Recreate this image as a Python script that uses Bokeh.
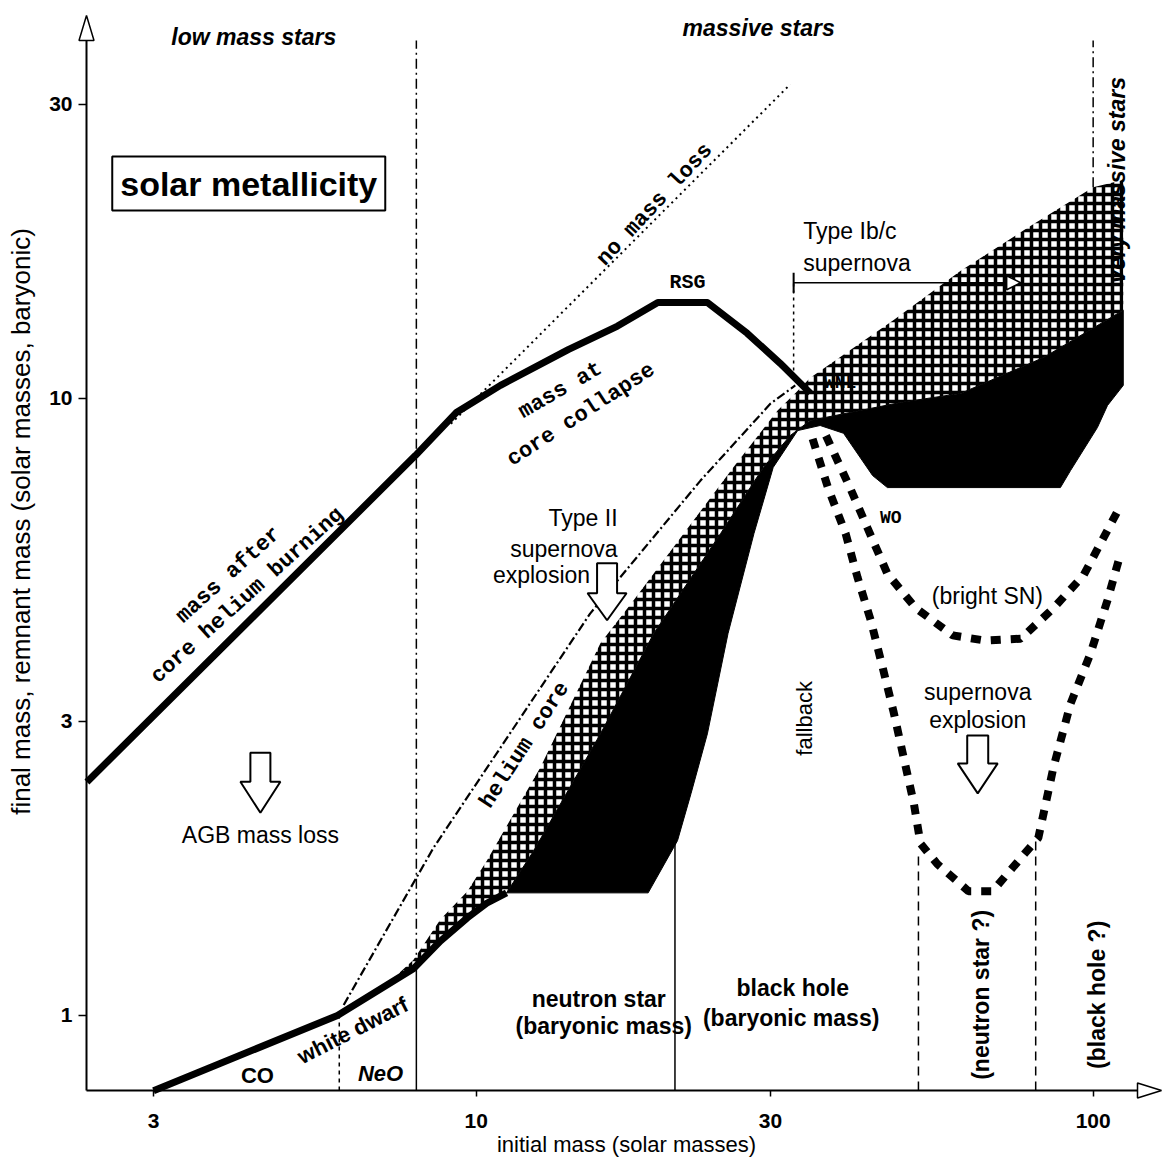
import math
from bokeh.plotting import figure
from bokeh.models import Range1d, FixedTicker, Label, Arrow, NormalHead, TeeHead
from bokeh.embed import file_html
from bokeh.resources import INLINE

# ---------------- data (all masses in solar masses) ----------------
X_TICKS = [3, 10, 30, 100]
X_TICK_LABELS = ["3", "10", "30", "100"]
Y_TICKS = [1, 3, 10, 30]
Y_TICK_LABELS = ["1", "3", "10", "30"]

# mass after core helium burning / mass at core collapse
STAR_INIT = [2.34, 7.97, 9.3, 10.95, 14.1, 16.95, 19.7, 23.7, 27.5, 31.1, 34.8]
STAR_FINAL = [2.39, 8.08, 9.5, 10.5, 12.0, 13.1, 14.3, 14.3, 12.75, 11.4, 10.2]

# white dwarf and low-mass remnant branch
REM_INIT = [3.0, 5.96, 7.91, 8.75, 9.68, 10.4, 11.2]
REM_MASS = [0.755, 1.0, 1.19, 1.32, 1.44, 1.52, 1.58]

# helium core mass
HE_INIT = [6.1, 8.53, 15.3, 23.1, 30.0, 32.9]
HE_CORE = [1.04, 1.87, 4.48, 7.36, 9.81, 10.5]

# no mass loss (final = initial)
NOLOSS = [9.1, 32.3]

# cross-hatched band (envelope that falls back)
HATCH_INIT = [7.0, 7.91, 8.75, 9.68, 10.4, 12.7, 15.9, 18.0, 21.7, 26.1, 30.8, 32.9, 34.8,
              47.5, 61.0, 78.3, 100.0, 111.9, 111.9,
              83.1, 61.0, 48.7, 40.4, 34.8, 32.3, 29.2, 24.9, 19.4, 15.9, 12.4, 11.2,
              10.4, 9.68, 8.75, 7.91]
HATCH_MASS = [1.10, 1.23, 1.43, 1.59, 1.78, 2.52, 4.01, 4.71, 6.04, 7.73, 9.56, 10.2, 10.8,
              13.4, 16.1, 18.9, 22.0, 22.6, 13.9,
              11.65, 10.19, 9.85, 9.49, 9.21, 8.71, 7.73, 6.04, 4.16, 2.86, 1.85, 1.58,
              1.52, 1.44, 1.32, 1.19]

# solid black band (remnant mass range)
BLACK_INIT = [11.2, 12.4, 15.9, 19.4, 24.9, 29.2, 32.3, 34.8, 40.4, 48.7, 61.0, 83.1, 111.9,
              111.9, 105.5, 101.6, 91.9, 88.5,
              46.4, 43.9, 39.4, 36.1, 33.2, 30.3, 28.2, 25.6, 23.7, 22.3, 21.2, 19.0]
BLACK_MASS = [1.58, 1.85, 2.86, 4.16, 6.04, 7.73, 8.71, 9.21, 9.49, 9.85, 10.19, 11.65, 13.9,
              10.5, 9.74, 8.97, 7.64, 7.17,
              7.17, 7.50, 8.78, 9.04, 8.87, 7.73, 6.04, 4.16, 2.86, 2.29, 1.92, 1.58]

# speculative branches for very massive stars
BRIGHT_INIT = [36.9, 40.4, 43.1, 46.4, 51.5, 59.2, 66.9, 76.3, 86.2, 96.5, 105.9, 110.8]
BRIGHT_MASS = [8.7, 7.15, 6.16, 5.20, 4.58, 4.13, 4.05, 4.08, 4.57, 5.17, 6.16, 6.71]
NS_INIT = [35.1, 37.2, 39.7, 41.5, 43.6, 45.6, 47.5, 49.3, 51.2, 52.5, 55.9, 62.8, 68.7,
           77.1, 81.5, 86.2, 91.9, 99.0, 105.5, 110.8]
NS_MASS = [8.6, 7.15, 6.04, 5.13, 4.37, 3.66, 3.10, 2.62, 2.21, 1.90, 1.76, 1.59, 1.59,
           1.82, 1.94, 2.52, 3.20, 3.86, 4.71, 5.61]

# initial-mass boundaries
M_CO_NEO = 6.0
M_MASSIVE = 8.0
M_NS_BH = 21.0
M_IBC = 32.7
M_PAIR_LO = 52.1
M_PAIR_HI = 80.7
M_VMS = 100.0

# ---------------- layout ----------------
W, H = 1162, 1162
PXD = 617.0                       # pixels per decade on both axes
AX_PX, AX_PY = 86, 1090           # canvas position of the axes corner
X_AX, Y_AX = 2.336, 0.7557        # data values at the axes corner


def at_px(px, py):
    """data coordinates of a canvas pixel position"""
    return X_AX * 10 ** ((px - AX_PX) / PXD), Y_AX * 10 ** ((AX_PY - py) / PXD)


def nudge(x, y, dx, dy):
    """shift a data point by dx, dy screen pixels (dy upward)"""
    return x * 10 ** (dx / PXD), y * 10 ** (dy / PXD)


# the plotting frame covers the whole canvas; the axes sit inside it
X_LO, Y_HI = at_px(0, 0)
X_HI, Y_LO = at_px(W, H)

p = figure(width=W, height=H, x_axis_type="log", y_axis_type="log",
           x_range=Range1d(X_LO, X_HI), y_range=Range1d(Y_LO, Y_HI),
           output_backend="svg", toolbar_location=None,
           min_border_left=0, min_border_right=0, min_border_top=0, min_border_bottom=0)
p.grid.visible = False
p.outline_line_color = None
p.background_fill_color = "white"
p.border_fill_color = "white"

SANS = "Liberation Sans"
MONO = "Liberation Mono"

x_tip, y_tip = at_px(1161, 15)        # arrow tips of the axes
x_base, y_base = at_px(1137, 40)      # where the arrow heads begin

for ax, ticks, labels in ((p.xaxis, X_TICKS, X_TICK_LABELS), (p.yaxis, Y_TICKS, Y_TICK_LABELS)):
    ax.ticker = FixedTicker(ticks=ticks, minor_ticks=[])
    ax.major_label_overrides = dict(zip(ticks, labels))
    ax.major_label_text_font = SANS
    ax.major_label_text_font_style = "bold"
    ax.major_label_text_font_size = "21px"
    ax.major_label_text_color = "black"
    ax.major_tick_in = 0
    ax.minor_tick_out = 0
    ax.minor_tick_in = 0
    ax.axis_line_width = 2
    ax.major_tick_line_width = 1.5

p.xaxis.fixed_location = Y_AX
p.xaxis.bounds = (X_AX, x_base)
p.xaxis.major_tick_out = 6
p.xaxis.major_label_standoff = 17

p.yaxis.fixed_location = X_AX
p.yaxis.bounds = (Y_AX, y_base)
p.yaxis.major_tick_out = 8
p.yaxis.major_label_standoff = 6

# shaded regions
p.patch(HATCH_INIT, HATCH_MASS, fill_color="white", line_color=None,
        hatch_pattern="+", hatch_color="black", hatch_scale=9, hatch_weight=3.5)
p.patch(BLACK_INIT, BLACK_MASS, fill_color="black", line_color="black", line_width=1)

# boundary lines
p.line([M_MASSIVE, M_MASSIVE], [1.19, y_base], line_color="black", line_width=1.5, line_dash="10 4 2 4")
p.line([M_MASSIVE, M_MASSIVE], [Y_AX, 1.19], line_color="black", line_width=1.5)
p.line([M_CO_NEO, M_CO_NEO], [Y_AX, 1.0], line_color="black", line_width=1.5, line_dash="4 4")
p.line([M_NS_BH, M_NS_BH], [Y_AX, 1.92], line_color="black", line_width=1.5)
p.line([M_IBC, M_IBC], [11.1, 15.4], line_color="black", line_width=1.5, line_dash="3 4")
p.line([M_PAIR_LO, M_PAIR_LO], [Y_AX, 1.85], line_color="black", line_width=1.5, line_dash="9 6")
p.line([M_PAIR_HI, M_PAIR_HI], [Y_AX, 1.96], line_color="black", line_width=1.5, line_dash="9 6")
p.line([M_VMS, M_VMS], [22.0, y_base], line_color="black", line_width=1.5, line_dash="10 4 2 4")

# curves
p.line(NOLOSS, NOLOSS, line_color="black", line_width=2, line_dash="2 4")
p.line(HE_INIT, HE_CORE, line_color="black", line_width=2.2, line_dash="9 3 2 3")
p.line(STAR_INIT, STAR_FINAL, line_color="black", line_width=7, line_join="round")
p.line(REM_INIT, REM_MASS, line_color="black", line_width=7, line_join="round")
p.line(BRIGHT_INIT, BRIGHT_MASS, line_color="black", line_width=8, line_dash="10 10")
p.line(NS_INIT, NS_MASS, line_color="black", line_width=8, line_dash="10 10")


def outline_shape(x0, y0, pts, lw=2):
    xy = [nudge(x0, y0, dx, dy) for dx, dy in pts]
    p.patch([a for a, _ in xy], [b for _, b in xy], fill_color="white",
            line_color="black", line_width=lw)


def block_arrow(xt, yt, ws, ls, wh, lh):
    outline_shape(xt, yt, [(0, 0), (-wh / 2, lh), (-ws / 2, lh), (-ws / 2, lh + ls),
                           (ws / 2, lh + ls), (ws / 2, lh), (wh / 2, lh)])


block_arrow(4.47, 2.13, 20, 29, 40, 31)
block_arrow(16.3, 4.37, 20, 30, 39, 27)
block_arrow(65.0, 2.29, 21, 28, 40, 30)

# hollow arrow heads closing the axes
outline_shape(X_AX, y_tip, [(0, 0), (-7.5, -25), (7.5, -25)], lw=1.5)
outline_shape(x_tip, Y_AX, [(0, 0), (-24, 7.5), (-24, -7.5)], lw=1.5)

# Type Ib/c bracket
p.add_layout(Arrow(x_start=M_IBC, y_start=15.4, x_end=76.3, y_end=15.4,
                   line_color="black", line_width=1.5,
                   start=TeeHead(size=20, line_width=2),
                   end=NormalHead(size=14, fill_color="white", line_color="black", line_width=1.5)))


def note(x, y, text, size=23, font=SANS, style="normal", angle=0, align="center",
         baseline="middle", **kw):
    p.add_layout(Label(x=x, y=y, text=text, text_font=font, text_font_size=f"{size}px",
                       text_font_style=style, angle=angle, angle_units="deg",
                       text_align=align, text_baseline=baseline, text_color="black", **kw))


# axis titles
note(*at_px(626, 1144), "initial mass (solar masses)", 22)
note(*at_px(20, 521), "final mass, remnant mass (solar masses, baryonic)", 26, angle=90)

note(4.36, 38.5, "low mass stars", 23, style="bold italic")
note(28.7, 39.9, "massive stars", 23, style="bold italic")
note(109.5, 22.6, "very massive stars", 23, style="bold italic", angle=90)
note(4.28, 22.3, "solar metallicity", 34, style="bold",
     border_line_color="black", border_line_width=2, background_fill_color="white", padding=8)

note(3.97, 5.17, "mass after", 22, font=MONO, style="bold", angle=42)
note(4.26, 4.79, "core helium burning", 22, font=MONO, style="bold", angle=42)
note(13.7, 10.3, "mass at", 22, font=MONO, style="bold", angle=30)
note(14.8, 9.4, "core collapse", 22, font=MONO, style="bold", angle=33)
note(19.5, 20.6, "no mass loss", 22, font=MONO, style="bold", angle=47)
note(12.0, 2.74, "helium core", 22, font=MONO, style="bold", angle=57)
note(22.0, 15.4, "RSG", 20, font=MONO, style="bold")
note(38.9, 10.6, "WNL", 18, font=MONO, style="bold")
note(47.0, 6.39, "WO", 18, font=MONO, style="bold")

note(33.9, 18.7, "Type Ib/c", 23, align="left")
note(33.9, 16.6, "supernova", 23, align="left")
note(16.95, 6.41, "Type II", 23, align="right")
note(16.95, 5.71, "supernova", 23, align="right")
note(15.3, 5.17, "explosion", 23, align="right")
note(4.47, 1.96, "AGB mass loss", 23)
note(65.0, 3.34, "supernova", 23)
note(65.0, 3.01, "explosion", 23)
note(67.4, 4.79, "(bright SN)", 23)
note(34.1, 3.03, "fallback", 22, angle=90)

note(15.8, 1.065, "neutron star", 23, style="bold")
note(16.1, 0.963, "(baryonic mass)", 23, style="bold")
note(32.6, 1.106, "black hole", 23, style="bold")
note(32.4, 0.989, "(baryonic mass)", 23, style="bold")
note(65.7, 1.08, "(neutron star ?)", 23, style="bold", angle=90)
note(101.6, 1.08, "(black hole ?)", 23, style="bold", angle=90)
note(4.42, 0.80, "CO", 22, style="bold")
note(7.0, 0.805, "NeO", 22, style="bold italic")
note(6.31, 0.946, "white dwarf", 22, style="bold", angle=27)

open("out.html", "w").write(file_html(p, INLINE))
